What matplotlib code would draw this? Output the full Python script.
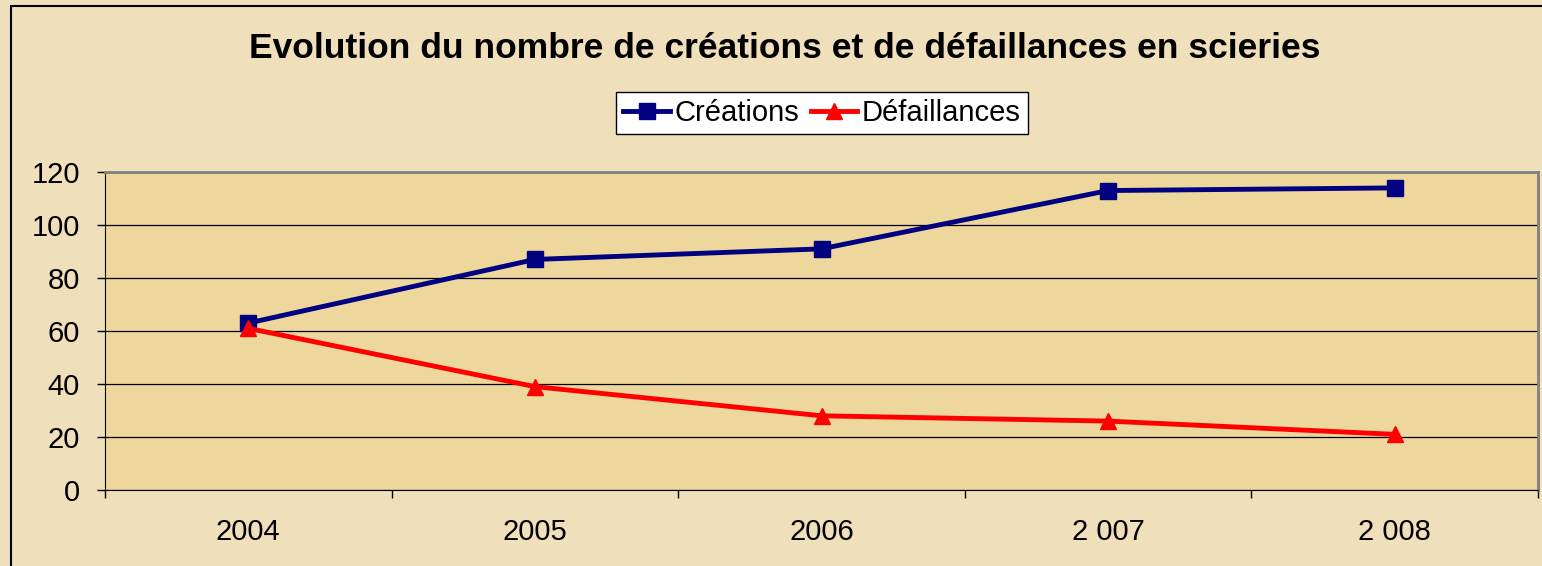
import matplotlib.pyplot as plt
from matplotlib.patches import Rectangle

plt.rcParams["font.family"] = ["Liberation Sans", "DejaVu Sans"]

years = ["2004", "2005", "2006", "2 007", "2 008"]
creations = [63, 87, 91, 113, 114]
defaillances = [61, 39, 28, 26, 21]

fig = plt.figure(figsize=(15.42, 5.66), dpi=100)
fig.patch.set_facecolor("#EFDFBA")
fig.patches.append(Rectangle((11 / 1542, -0.1), 1.2, 1 - 6 / 566 + 0.1,
                             transform=fig.transFigure, fill=False,
                             edgecolor="black", linewidth=1.5))

ax = fig.add_axes([105 / 1542, 1 - 490 / 566, (1538 - 105) / 1542, (490 - 172) / 566])
ax.set_facecolor("#EDD79C")

x = list(range(len(years)))
ax.plot(x, creations, color="#000080", linewidth=3.5, marker="s", markersize=11,
        label="Créations", zorder=3)
ax.plot(x, defaillances, color="#FF0000", linewidth=3.5, marker="^", markersize=12,
        label="Défaillances", zorder=3)

ax.set_xlim(-0.5, len(years) - 0.5)
ax.set_ylim(0, 120)
ax.set_yticks(range(0, 121, 20))
ax.yaxis.grid(True, color="black", linewidth=0.9)
ax.set_axisbelow(True)

ax.set_xticks([i - 0.5 for i in range(len(years) + 1)])
ax.set_xticklabels([])
ax.set_xticks(x, minor=True)
ax.set_xticklabels(years, minor=True)
ax.tick_params(axis="x", which="major", length=6, direction="out", width=1)
ax.tick_params(axis="x", which="minor", length=0, pad=20, labelsize=21)
ax.tick_params(axis="y", length=6, direction="out", width=1, labelsize=21, pad=12)

for side in ["top", "right"]:
    ax.spines[side].set_color("#808080")
    ax.spines[side].set_linewidth(2)
ax.spines["left"].set_color("black")
ax.spines["bottom"].set_color("black")

fig.text(0.509, 0.915, "Evolution du nombre de créations et de défaillances en scieries",
         ha="center", va="center", fontsize=25.5, fontweight="bold")

leg = fig.legend(loc="center", bbox_to_anchor=(0.533, 0.80), ncol=2, fontsize=21,
                 frameon=True, fancybox=False, handlelength=1.6, handletextpad=0.15,
                 columnspacing=0.4, borderpad=0.25, borderaxespad=0)
leg.get_frame().set_edgecolor("black")
leg.get_frame().set_facecolor("white")
leg.get_frame().set_alpha(1)

fig.savefig("out.png", dpi=100, facecolor=fig.get_facecolor())
